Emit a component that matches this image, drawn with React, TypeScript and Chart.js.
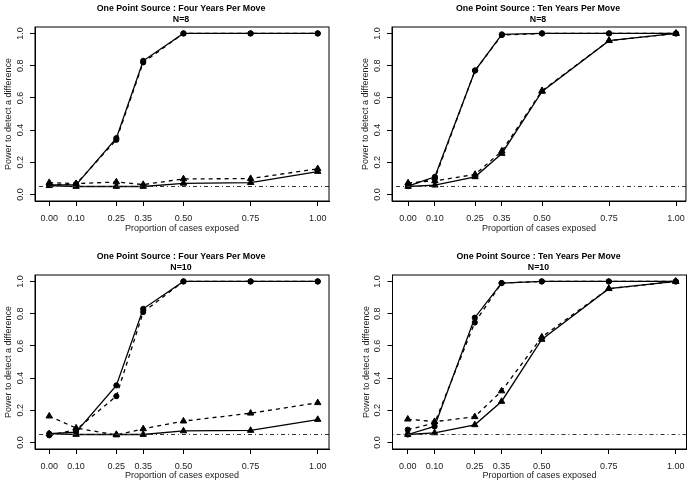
import React, { useEffect, useRef } from "react";
import { Chart, registerables } from "chart.js";

Chart.register(...registerables);

// ---------- data ----------
const xValues = [0, 0.1, 0.25, 0.35, 0.5, 0.75, 1];
const xTickValues = [0, 0.1, 0.25, 0.35, 0.5, 0.75, 1];
const yTickValues = [0, 0.2, 0.4, 0.6, 0.8, 1];
const referenceLevel = 0.05;

const titleFour = "One Point Source : Four Years Per Move";
const titleTen = "One Point Source : Ten Years Per Move";
const subtitleN8 = "N=8";
const subtitleN10 = "N=10";
const xAxisTitle = "Proportion of cases exposed";
const yAxisTitle = "Power to detect a difference";

// Four years per move, N=8
const fourN8CircleSolid = [0.06, 0.06, 0.35, 0.83, 1, 1, 1];
const fourN8CircleDashed = [0.06, 0.065, 0.34, 0.82, 1, 1, 1];
const fourN8TriSolid = [0.055, 0.05, 0.05, 0.05, 0.07, 0.074, 0.143];
const fourN8TriDashed = [0.074, 0.068, 0.078, 0.062, 0.097, 0.099, 0.16];

// Ten years per move, N=8
const tenN8CircleSolid = [0.052, 0.11, 0.77, 0.994, 1, 1, 1];
const tenN8CircleDashed = [0.06, 0.1, 0.77, 0.99, 1, 1, 1];
const tenN8TriSolid = [0.05, 0.058, 0.11, 0.255, 0.64, 0.955, 1];
const tenN8TriDashed = [0.072, 0.085, 0.125, 0.27, 0.645, 0.955, 1];

// Four years per move, N=10
const fourN10CircleSolid = [0.055, 0.065, 0.355, 0.83, 1, 1, 1];
const fourN10CircleDashed = [0.045, 0.08, 0.288, 0.81, 1, 1, 1];
const fourN10TriSolid = [0.055, 0.05, 0.05, 0.05, 0.072, 0.075, 0.143];
const fourN10TriDashed = [0.164, 0.09, 0.047, 0.085, 0.133, 0.182, 0.247];

// Ten years per move, N=10
const tenN10CircleSolid = [0.05, 0.1, 0.775, 0.99, 1, 1, 1];
const tenN10CircleDashed = [0.08, 0.12, 0.745, 0.99, 1, 1, 1];
const tenN10TriSolid = [0.05, 0.06, 0.11, 0.255, 0.64, 0.955, 1];
const tenN10TriDashed = [0.145, 0.13, 0.16, 0.32, 0.655, 0.955, 1];

// ---------- styling ----------
const FONT = "'Liberation Sans', Arial, Helvetica, sans-serif";
const TEXT = "#222";

type PanelSpec = {
  left: number;
  top: number;
  padLeft: number;
  padRight: number;
  padTop: number;
  padBottom: number;
  xAxisHeight: number;
  yAxisWidth: number;
  xMin: number;
  xMax: number;
  title: string[];
  circleSolid: number[];
  circleDashed: number[];
  triSolid: number[];
  triDashed: number[];
};

const W = 346;
const H = 243;

function series(vals: number[], style: "circle" | "triangle", dashed: boolean) {
  return {
    data: xValues.map((x, i) => ({ x, y: vals[i] })),
    borderColor: "#000",
    backgroundColor: "#000",
    borderWidth: 1.3,
    borderDash: dashed ? [4, 4] : [],
    pointStyle: style,
    pointRadius: style === "circle" ? 2.6 : 3.7,
    pointBorderWidth: 1,
    pointBackgroundColor: "#000",
    pointBorderColor: "#000",
    tension: 0,
    fill: false,
  };
}

function Panel({ spec }: { spec: PanelSpec }) {
  const ref = useRef<HTMLCanvasElement>(null);
  useEffect(() => {
    if (!ref.current) return;
    const framePlugin = {
      id: "rframe",
      afterDraw(chart: any) {
        const { ctx, chartArea: a } = chart;
        ctx.save();
        ctx.strokeStyle = "#000";
        ctx.lineWidth = 1;
        ctx.setLineDash([]);
        ctx.strokeRect(a.left, a.top, a.right - a.left, a.bottom - a.top);
        const ys = chart.scales.y;
        ctx.fillStyle = TEXT;
        ctx.font = `9px ${FONT}`;
        ctx.textAlign = "center";
        ctx.textBaseline = "middle";
        ys.ticks.forEach((t: any) => {
          const py = ys.getPixelForValue(t.value);
          ctx.save();
          ctx.translate(a.left - 14.5, py);
          ctx.rotate(-Math.PI / 2);
          ctx.fillText(Number(t.value).toFixed(1), 0, 0);
          ctx.restore();
        });
        ctx.fillStyle = "#000";
        ctx.font = `bold 8.8px ${FONT}`;
        const cx = (a.left + a.right) / 2 - 1;
        ctx.fillText(spec.title[0], cx, a.top - 18.3);
        ctx.fillText(spec.title[1], cx, a.top - 7.5);
        ctx.restore();
      },
    };
    const chart = new Chart(ref.current, {
      type: "line",
      data: {
        datasets: [
          {
            data: [
              { x: spec.xMin, y: referenceLevel },
              { x: spec.xMax, y: referenceLevel },
            ],
            borderColor: "#333",
            borderWidth: 1,
            borderDash: [1, 3, 4, 3],
            pointRadius: 0,
            fill: false,
          } as any,
          series(spec.circleSolid, "circle", false),
          series(spec.circleDashed, "circle", true),
          series(spec.triSolid, "triangle", false),
          series(spec.triDashed, "triangle", true),
        ],
      },
      options: {
        responsive: false,
        animation: false,
        events: [],
        layout: {
          padding: {
            left: spec.padLeft,
            right: spec.padRight,
            top: spec.padTop,
            bottom: spec.padBottom,
          },
        },
        plugins: { legend: { display: false }, tooltip: { enabled: false } },
        scales: {
          x: {
            type: "linear",
            min: spec.xMin,
            max: spec.xMax,
            afterBuildTicks: (s: any) => {
              s.ticks = xTickValues.map((v) => ({ value: v }));
            },
            afterFit: (s: any) => {
              s.height = spec.xAxisHeight;
            },
            ticks: {
              autoSkip: false,
              maxRotation: 0,
              minRotation: 0,
              padding: 7,
              color: TEXT,
              font: { family: FONT, size: 9 },
              callback: (v: any) => Number(v).toFixed(2),
            },
            grid: {
              display: true,
              drawOnChartArea: false,
              drawTicks: true,
              tickLength: 5,
              color: "#000",
            },
            border: { display: true, color: "#000" },
            title: {
              display: true,
              text: xAxisTitle,
              color: TEXT,
              font: { family: FONT, size: 9 },
              padding: { top: 0, bottom: 5 },
            },
          },
          y: {
            type: "linear",
            min: -0.04,
            max: 1.04,
            afterBuildTicks: (s: any) => {
              s.ticks = yTickValues.map((v) => ({ value: v }));
            },
            afterFit: (s: any) => {
              s.width = spec.yAxisWidth;
            },
            ticks: {
              autoSkip: false,
              color: "rgba(0,0,0,0)",
              font: { family: FONT, size: 9 },
            },
            grid: {
              display: true,
              drawOnChartArea: false,
              drawTicks: true,
              tickLength: 5,
              color: "#000",
            },
            border: { display: true, color: "#000" },
            title: {
              display: true,
              text: yAxisTitle,
              color: TEXT,
              font: { family: FONT, size: 9 },
              padding: { top: 3.5, bottom: 0 },
            },
          },
        },
      } as any,
      plugins: [framePlugin],
    });
    return () => chart.destroy();
  }, []);
  return (
    <canvas
      ref={ref}
      width={W}
      height={H}
      style={{ position: "absolute", left: spec.left, top: spec.top, width: W, height: H, display: "block" }}
    />
  );
}

const panels: PanelSpec[] = [
  {
    left: 0, top: 0, padLeft: 0, padRight: 17, padTop: 27, padBottom: 4, xAxisHeight: 38, yAxisWidth: 35,
    xMin: -0.053, xMax: 1.042, title: [titleFour, subtitleN8],
    circleSolid: fourN8CircleSolid, circleDashed: fourN8CircleDashed, triSolid: fourN8TriSolid, triDashed: fourN8TriDashed,
  },
  {
    left: 346, top: 0, padLeft: 11, padRight: 6, padTop: 27, padBottom: 4, xAxisHeight: 38, yAxisWidth: 35,
    xMin: -0.06, xMax: 1.037, title: [titleTen, subtitleN8],
    circleSolid: tenN8CircleSolid, circleDashed: tenN8CircleDashed, triSolid: tenN8TriSolid, triDashed: tenN8TriDashed,
  },
  {
    left: 0, top: 243, padLeft: 0, padRight: 17, padTop: 32, padBottom: 0, xAxisHeight: 37, yAxisWidth: 35,
    xMin: -0.053, xMax: 1.042, title: [titleFour, subtitleN10],
    circleSolid: fourN10CircleSolid, circleDashed: fourN10CircleDashed, triSolid: fourN10TriSolid, triDashed: fourN10TriDashed,
  },
  {
    left: 346, top: 243, padLeft: 11.5, padRight: 5.5, padTop: 32, padBottom: 0, xAxisHeight: 37, yAxisWidth: 35,
    xMin: -0.057, xMax: 1.04, title: [titleTen, subtitleN10],
    circleSolid: tenN10CircleSolid, circleDashed: tenN10CircleDashed, triSolid: tenN10TriSolid, triDashed: tenN10TriDashed,
  },
];

export default function App() {
  return (
    <div style={{ position: "fixed", left: 0, top: 0, width: 692, height: 486, background: "#fff" }}>
      {panels.map((p, i) => (
        <Panel key={i} spec={p} />
      ))}
    </div>
  );
}
